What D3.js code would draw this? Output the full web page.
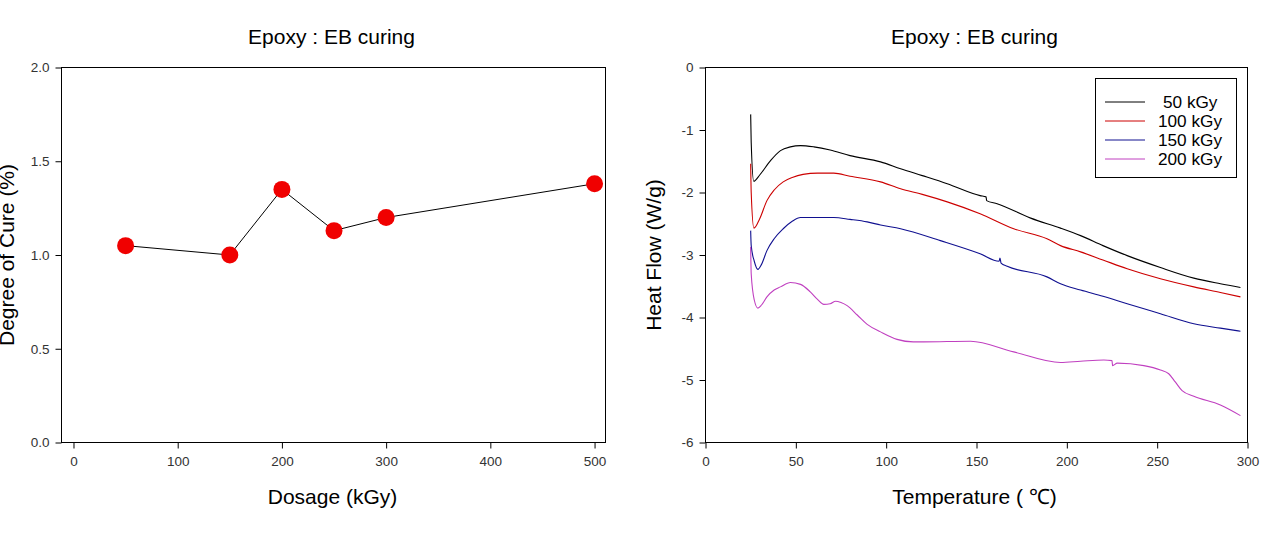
<!DOCTYPE html>
<html><head><meta charset="utf-8">
<script src="https://cdn.jsdelivr.net/npm/d3@7"></script>
<style>
html,body{margin:0;padding:0;background:#fff;}
svg{display:block;}
text{font-family:"Liberation Sans",Arial,sans-serif;}
</style></head>
<body>
<svg id="chart" width="1280" height="546"></svg>
<script>
// ---------- Data ----------
const chartTitle = "Epoxy : EB curing";

// Left chart: degree of cure vs dosage
const dosage = [50, 150, 200, 250, 300, 500];
const cureDegree = [1.05, 1.00, 1.35, 1.13, 1.20, 1.38];
const dosageTicks = [0, 100, 200, 300, 400, 500];
const cureTicks = [0.0, 0.5, 1.0, 1.5, 2.0];

// Right chart: DSC heat flow vs temperature
const seriesNames = ["50 kGy", "100 kGy", "150 kGy", "200 kGy"];
const tempTicks = [0, 50, 100, 150, 200, 250, 300];
const heatTicks = [0, -1, -2, -3, -4, -5, -6];

const temp50 = [25.0, 25.3, 26.7, 30, 36, 41.5, 47, 52.6, 60, 69, 80, 96.9, 108, 120, 133.8, 152, 155.3, 155.6, 161.4, 180, 196.5, 207.6, 220, 233.4, 251.8, 270.3, 285, 296.1];
const heat50 = [-0.75, -1.2, -1.82, -1.72, -1.49, -1.33, -1.27, -1.25, -1.27, -1.32, -1.41, -1.51, -1.62, -1.73, -1.86, -2.05, -2.07, -2.13, -2.18, -2.41, -2.57, -2.69, -2.85, -3.01, -3.20, -3.37, -3.46, -3.52];

const temp100 = [25.0, 25.3, 26.8, 30, 34, 38, 43, 48, 54, 62, 71, 80, 96.9, 108, 120, 133.8, 152, 170.6, 189, 196.5, 207.6, 220, 233.4, 251.8, 270.3, 285, 296.1];
const heat100 = [-1.54, -2.0, -2.57, -2.42, -2.13, -1.96, -1.83, -1.76, -1.71, -1.69, -1.69, -1.74, -1.83, -1.94, -2.03, -2.15, -2.34, -2.58, -2.74, -2.85, -2.95, -3.08, -3.22, -3.38, -3.51, -3.60, -3.67];

const temp150 = [25.0, 25.3, 27, 29, 31, 34, 38, 43, 48, 52.6, 60, 71, 80, 89.5, 96.9, 108, 130, 152, 162.5, 163, 163.6, 167, 189, 196.5, 207.6, 220, 233.4, 251.8, 270.3, 285, 296.1];
const heat150 = [-2.61, -2.85, -3.10, -3.23, -3.15, -2.93, -2.74, -2.58, -2.46, -2.40, -2.40, -2.40, -2.43, -2.47, -2.52, -2.58, -2.77, -2.98, -3.10, -3.05, -3.13, -3.18, -3.35, -3.46, -3.56, -3.66, -3.78, -3.94, -4.10, -4.17, -4.22];

const temp200 = [25.0, 25.3, 27, 29, 31, 34, 38, 41.5, 47, 52.6, 58, 62, 65.5, 69, 72, 75, 78.4, 84, 89.5, 96.9, 106, 115, 120.8, 146.7, 170.6, 196.5, 207.6, 220.5, 225, 225.3, 227.9, 242.6, 251.8, 256.4, 260, 263.8, 270.3, 285, 296.1];
const heat200 = [-2.87, -3.30, -3.72, -3.85, -3.80, -3.67, -3.56, -3.51, -3.44, -3.47, -3.59, -3.71, -3.79, -3.78, -3.74, -3.76, -3.81, -3.96, -4.11, -4.23, -4.35, -4.39, -4.39, -4.38, -4.55, -4.72, -4.70, -4.68, -4.69, -4.77, -4.73, -4.77, -4.84, -4.90, -5.03, -5.17, -5.26, -5.40, -5.57];

const seriesColors = ["#000000", "#cc0000", "#101090", "#c040c0"];
const seriesTemps = [temp50, temp100, temp150, temp200];
const seriesHeats = [heat50, heat100, heat150, heat200];

// ---------- Drawing ----------
const svg = d3.select("#chart");
const FONT = '"Liberation Sans", Arial, sans-serif';

function frame(g, x0, x1, y0, y1) {
  g.append("rect").attr("x", x0).attr("y", y0).attr("width", x1 - x0).attr("height", y1 - y0)
    .attr("fill", "none").attr("stroke", "#000").attr("stroke-width", 1);
}
function styleAxis(sel) {
  sel.select(".domain").remove();
  sel.selectAll(".tick line").attr("stroke", "#000").attr("stroke-width", 1);
  sel.selectAll(".tick text").attr("fill", "#333").attr("font-size", 13.5).attr("font-family", FONT);
}
const hyphenInt = d => String(Math.round(d)); // plain ASCII hyphen for negatives

// Left chart
{
  const L = 61.5, R = 605.5, T = 67.5, B = 442.5;
  const x = d3.scaleLinear().domain([-11.5, 510.5]).range([L, R]);
  const y = d3.scaleLinear().domain([0, 2]).range([B, T]);
  const g = svg.append("g");

  g.append("g").attr("transform", `translate(0,${B})`)
    .call(d3.axisBottom(x).tickValues(dosageTicks).tickSize(6).tickPadding(8).tickFormat(hyphenInt))
    .call(styleAxis);
  g.append("g").attr("transform", `translate(${L},0)`)
    .call(d3.axisLeft(y).tickValues(cureTicks).tickSize(6).tickPadding(6).tickFormat(d => d.toFixed(1)))
    .call(styleAxis);
  frame(g, L, R, T, B);

  const pts = dosage.map((d, i) => [d, cureDegree[i]]);
  g.append("path").datum(pts)
    .attr("d", d3.line().x(d => x(d[0])).y(d => y(d[1])))
    .attr("fill", "none").attr("stroke", "#000").attr("stroke-width", 1);
  g.selectAll("circle.pt").data(pts).join("circle").attr("class", "pt")
    .attr("cx", d => x(d[0])).attr("cy", d => y(d[1])).attr("r", 8.5)
    .attr("fill", "#f00000");

  g.append("text").attr("x", (L + R) / 2 - 2).attr("y", 44).attr("text-anchor", "middle")
    .attr("font-size", 21).attr("fill", "#000").text(chartTitle);
  g.append("text").attr("x", (L + R) / 2 - 1).attr("y", 504).attr("text-anchor", "middle")
    .attr("font-size", 21).attr("fill", "#000").text("Dosage (kGy)");
  g.append("text").attr("transform", `translate(14,${(T + B) / 2}) rotate(-90)`)
    .attr("text-anchor", "middle").attr("font-size", 21).attr("fill", "#000").text("Degree of Cure (%)");
}

// Right chart
{
  const L = 705.5, R = 1247.5, T = 67.5, B = 442.5;
  const x = d3.scaleLinear().domain([0, 300]).range([L, R]);
  const y = d3.scaleLinear().domain([-6, 0]).range([B, T]);
  const g = svg.append("g");

  g.append("g").attr("transform", `translate(0,${B})`)
    .call(d3.axisBottom(x).tickValues(tempTicks).tickSize(6).tickPadding(8).tickFormat(hyphenInt))
    .call(styleAxis);
  g.append("g").attr("transform", `translate(${L},0)`)
    .call(d3.axisLeft(y).tickValues(heatTicks).tickSize(6).tickPadding(6).tickFormat(hyphenInt))
    .call(styleAxis);
  frame(g, L, R, T, B);

  const line = d3.line().x(d => x(d[0])).y(d => y(d[1])).curve(d3.curveMonotoneX);
  seriesNames.forEach((name, i) => {
    const pts = seriesTemps[i].map((t, j) => [t, seriesHeats[i][j]]);
    g.append("path").datum(pts).attr("d", line)
      .attr("fill", "none").attr("stroke", seriesColors[i]).attr("stroke-width", 1.1);
  });

  // Legend
  const lg = g.append("g");
  lg.append("rect").attr("x", 1095.5).attr("y", 78.5).attr("width", 141).attr("height", 99)
    .attr("fill", "#fff").attr("stroke", "#000").attr("stroke-width", 1);
  seriesNames.forEach((name, i) => {
    const yy = 102 + i * 19;
    lg.append("line").attr("x1", 1105).attr("x2", 1145).attr("y1", yy).attr("y2", yy)
      .attr("stroke", seriesColors[i]).attr("stroke-width", 1);
    lg.append("text").attr("x", i === 0 ? 1163 : 1158).attr("y", yy + 6)
      .attr("font-size", 17.2).attr("fill", "#000").text(name);
  });

  g.append("text").attr("x", (L + R) / 2 - 2).attr("y", 44).attr("text-anchor", "middle")
    .attr("font-size", 21).attr("fill", "#000").text(chartTitle);
  g.append("text").attr("x", (L + R) / 2 - 2).attr("y", 504).attr("text-anchor", "middle")
    .attr("font-size", 21).attr("fill", "#000").text("Temperature ( ℃)");
  g.append("text").attr("transform", `translate(661,${(T + B) / 2}) rotate(-90)`)
    .attr("text-anchor", "middle").attr("font-size", 21).attr("fill", "#000").text("Heat Flow (W/g)");
}
</script>
</body></html>
